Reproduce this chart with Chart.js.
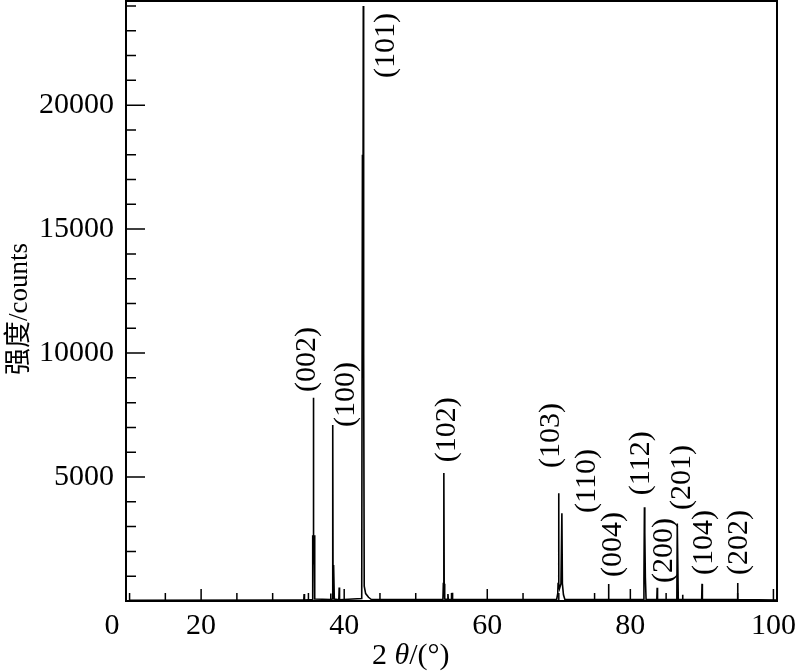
<!DOCTYPE html>
<html>
<head>
<meta charset="utf-8">
<script src="https://cdn.jsdelivr.net/npm/chart.js@4.4.1/dist/chart.umd.min.js"></script>
<style>
  html, body { margin: 0; padding: 0; background: #fff; }
  canvas { display: block; }
</style>
</head>
<body>
<canvas id="xrd" width="800" height="671"></canvas>
<script>
// ------------ Dados ------------

// perfil de difração: 2θ (°) e intensidade (counts)
const twoTheta = [
  10, 33.5, 34.35, 34.4, 34.45,
  35.5, 35.6, 35.64, 35.69, 35.74, 35.8, 35.88,
  38.05, 38.1, 38.15, 38.33, 38.4, 38.44, 38.48, 38.56, 38.62,
  39.25, 39.3, 39.35,
  42.45, 42.55, 42.6, 42.67, 42.72, 42.8, 43.0, 43.4, 43.8,
  53.8, 53.86, 53.93, 53.98, 54.05, 54.45, 54.5, 54.55, 55.05, 55.1, 55.15,
  69.7, 69.85, 69.9, 69.97, 70.02, 70.1, 70.3, 70.43, 70.5, 70.65, 70.85,
  76.9, 76.95, 77.0,
  81.85, 81.9, 81.97, 82.02, 82.1, 82.2,
  83.7, 83.75, 83.8,
  86.5, 86.56, 86.62, 86.7, 87.25, 87.3, 87.35,
  89.97, 90.02, 90.07,
  94.94, 94.99, 95.04, 100.5
];
const counts = [
  30, 40, 40, 280, 40,
  60, 2650, 1500, 8200, 2000, 2650, 80,
  60, 300, 60, 80, 7100, 1000, 1450, 1450, 80,
  50, 540, 50,
  100, 18000, 9000, 24000, 10000, 600, 300, 150, 60,
  60, 700, 5160, 700, 80, 60, 280, 60, 60, 330, 60,
  60, 300, 700, 4350, 700, 500, 700, 3540, 700, 250, 60,
  60, 690, 60,
  60, 930, 3780, 2760, 930, 60,
  60, 530, 60,
  60, 3130, 3130, 60, 60, 250, 60,
  60, 690, 60,
  60, 730, 60, 40
];

// índices de Miller e ponto de ancoragem do rótulo (2θ, counts = base do texto)
const hklNames  = ["(002)", "(100)", "(101)", "(102)", "(103)", "(110)", "(004)", "(112)", "(200)", "(201)", "(104)", "(202)"];
const hklTheta  = [34.8, 40.25, 45.84, 54.35, 68.86, 74.0, 77.65, 81.55, 84.76, 87.28, 90.34, 95.22];
const hklCounts = [8430, 7020, 21090, 5600, 5360, 3550, 970, 4270, 730, 3670, 1050, 1050];

// marcas dos eixos
const xTicks = [20, 40, 60, 80, 100];
const yTicks = [5000, 10000, 15000, 20000];

const serif = "'Liberation Serif', 'Noto Sans CJK SC', serif";

// ------------ Plugin: moldura, marcas internas, rótulos ------------

const extras = {
  id: "extras",
  afterDraw(chart) {
    const { ctx, chartArea: a, scales: { x, y } } = chart;
    ctx.save();
    ctx.strokeStyle = "#000";
    ctx.fillStyle = "#000";

    // moldura
    ctx.lineWidth = 2;
    ctx.strokeRect(a.left, a.top, a.right - a.left, a.bottom - a.top);

    // marcas internas
    ctx.lineWidth = 1.5;
    ctx.beginPath();
    for (let v = 1000; v < y.max; v += 1000) {
      const py = y.getPixelForValue(v);
      const len = v % 5000 === 0 ? 19 : 10;
      ctx.moveTo(a.left, py);
      ctx.lineTo(a.left + len, py);
    }
    for (let v = 10; v <= 100; v += 5) {
      const px = x.getPixelForValue(v);
      const len = v % 20 === 0 ? 12 : 8;
      ctx.moveTo(px, a.bottom);
      ctx.lineTo(px, a.bottom - len);
    }
    ctx.stroke();

    // rótulos do eixo x
    ctx.font = "30px " + serif;
    ctx.textBaseline = "middle";
    ctx.textAlign = "center";
    ctx.fillText("0", a.left - 14, 626);
    xTicks.forEach(v => ctx.fillText(String(v), x.getPixelForValue(v), 626));

    // título do eixo x: 2θ/(°)
    ctx.textAlign = "left";
    let tx = 372;
    ctx.fillText("2 ", tx, 656);
    tx += ctx.measureText("2 ").width;
    ctx.font = "italic 30px " + serif;
    ctx.fillText("θ", tx, 656);
    tx += ctx.measureText("θ").width;
    ctx.font = "30px " + serif;
    ctx.fillText("/(°)", tx, 656);

    // título do eixo y
    ctx.save();
    ctx.translate(20, 309);
    ctx.rotate(-Math.PI / 2);
    ctx.textAlign = "center";
    ctx.font = "27px " + serif;
    ctx.fillText("强度/counts", 0, 0);
    ctx.restore();

    // índices de Miller
    ctx.font = "30px " + serif;
    hklNames.forEach((name, i) => {
      ctx.save();
      ctx.translate(x.getPixelForValue(hklTheta[i]), y.getPixelForValue(hklCounts[i]));
      ctx.rotate(-Math.PI / 2);
      ctx.textAlign = "left";
      ctx.textBaseline = "middle";
      ctx.fillText(name, 0, 0);
      ctx.restore();
    });

    ctx.restore();
  }
};

// ------------ Gráfico ------------

new Chart(document.getElementById("xrd"), {
  type: "line",
  data: {
    datasets: [{
      data: twoTheta.map((t, i) => ({ x: t, y: counts[i] })),
      borderColor: "#000",
      borderWidth: 1.6,
      pointRadius: 0,
      tension: 0,
      fill: false
    }]
  },
  options: {
    responsive: false,
    animation: false,
    layout: { padding: { top: 1, right: 23, left: 0, bottom: 0 } },
    plugins: { legend: { display: false }, tooltip: { enabled: false } },
    scales: {
      x: {
        type: "linear",
        min: 9.5,
        max: 100.5,
        grid: { display: false },
        border: { display: false },
        ticks: { display: false },
        afterBuildTicks: s => { s.ticks = xTicks.map(v => ({ value: v })); },
        afterFit: s => { s.height = 70; s.paddingLeft = 0; s.paddingRight = 0; }
      },
      y: {
        min: 0,
        max: 24200,
        grid: { display: false },
        border: { display: false },
        ticks: {
          color: "#000",
          padding: 4,
          font: { family: serif, size: 30 },
          callback: v => String(v)
        },
        afterBuildTicks: s => { s.ticks = yTicks.map(v => ({ value: v })); },
        afterFit: s => { s.width = 126; s.paddingTop = 0; s.paddingBottom = 0; }
      }
    }
  },
  plugins: [extras]
});
</script>
</body>
</html>
